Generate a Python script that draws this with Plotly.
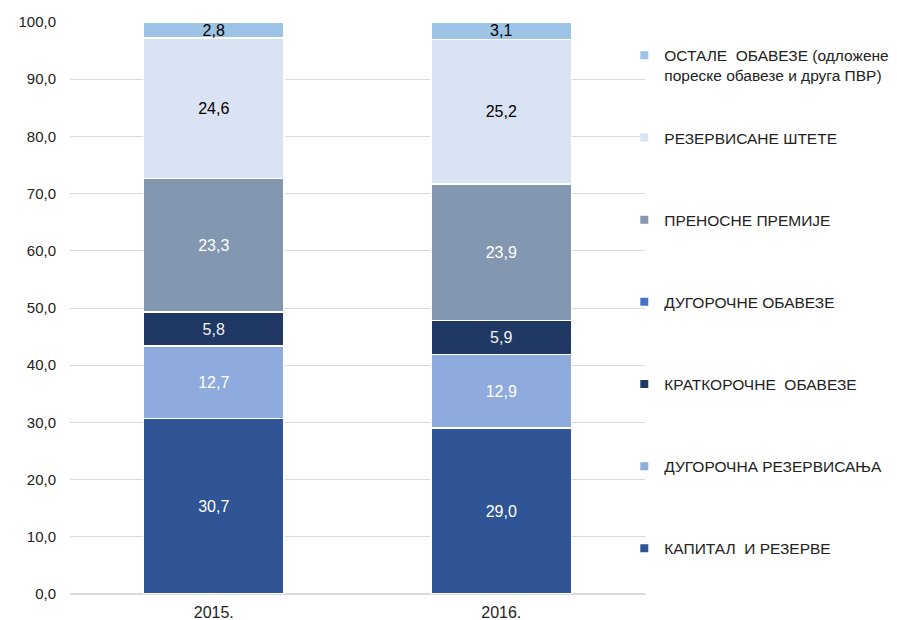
import plotly.graph_objects as go

categories = ["2015.", "2016."]

series_names = [
    "КАПИТАЛ  И РЕЗЕРВЕ",
    "ДУГОРОЧНА РЕЗЕРВИСАЊА",
    "КРАТКОРОЧНЕ  ОБАВЕЗЕ",
    "ДУГОРОЧНЕ ОБАВЕЗЕ",
    "ПРЕНОСНЕ ПРЕМИЈЕ",
    "РЕЗЕРВИСАНЕ ШТЕТЕ",
    "ОСТАЛЕ  ОБАВЕЗЕ (одложене<br>пореске обавезе и друга ПВР)",
]
kapital = [30.7, 29.0]
dug_rez = [12.7, 12.9]
krat_obav = [5.8, 5.9]
dug_obav = [0.1, 0.0]
prenosne = [23.3, 23.9]
rez_stete = [24.6, 25.2]
ostale = [2.8, 3.1]

series_values = [kapital, dug_rez, krat_obav, dug_obav, prenosne, rez_stete, ostale]
colors = ["#2F5597", "#8FAADC", "#1F3864", "#4472C4", "#8497B0", "#DAE3F3", "#9DC3E6"]
text_colors = ["white", "white", "#F2F2F2", "white", "white", "black", "black"]
show_text = [True, True, True, False, True, True, True]

FONT = "Liberation Sans, Arial, sans-serif"

fig = go.Figure()
n = len(series_names)
for i, (name, vals) in enumerate(zip(series_names, series_values)):
    fig.add_trace(go.Bar(
        x=categories,
        y=vals,
        name=name,
        showlegend=False,
        marker=dict(color=colors[i], line=dict(color="white", width=1.5)),
        texttemplate="%{y:.1f}" if show_text[i] else None,
        textposition="inside" if show_text[i] else "none",
        insidetextanchor="middle",
        constraintext="none",
        textangle=0,
        textfont=dict(color=text_colors[i], size=16, family=FONT),
    ))

# legend entries (small square symbols)
for i, name in enumerate(series_names):
    fig.add_trace(go.Scatter(
        x=[None], y=[None],
        mode="markers",
        name=name,
        marker=dict(symbol="square", size=8, color=colors[i]),
        legend="legend2" if i == n - 1 else "legend",
        legendgroup=f"g{i}",
        legendrank=n - i,
        showlegend=True,
    ))

fig.update_layout(
    width=889,
    height=612,
    barmode="stack",
    bargap=0.513,
    separators=",.",
    plot_bgcolor="white",
    paper_bgcolor="white",
    font=dict(family=FONT, size=15, color="#222222"),
    margin=dict(l=62, r=252, t=14, b=26, autoexpand=False),
    showlegend=True,
    legend=dict(
        x=0.964, xanchor="left",
        y=0.827, yanchor="top",
        traceorder="grouped",
        tracegroupgap=59,
        itemwidth=30,
        font=dict(size=15.5, color="#222222", family=FONT),
        bgcolor="rgba(0,0,0,0)",
    ),
    legend2=dict(
        x=0.964, xanchor="left",
        y=0.971, yanchor="top",
        valign="top",
        itemwidth=30,
        font=dict(size=15.5, color="#222222", family=FONT),
        bgcolor="rgba(0,0,0,0)",
    ),
    xaxis=dict(
        showgrid=False,
        showline=False,
        ticks="",
        tickfont=dict(size=16),
        ticklabelstandoff=7,
    ),
    yaxis=dict(
        range=[0, 100],
        dtick=10,
        tickformat=".1f",
        showgrid=True,
        gridcolor="#D9D9D9",
        gridwidth=1,
        zeroline=True,
        zerolinecolor="#D9D9D9",
        showline=False,
        ticks="",
        tickfont=dict(size=15),
        ticklabelstandoff=13,
    ),
)

fig.write_html("out.html")
